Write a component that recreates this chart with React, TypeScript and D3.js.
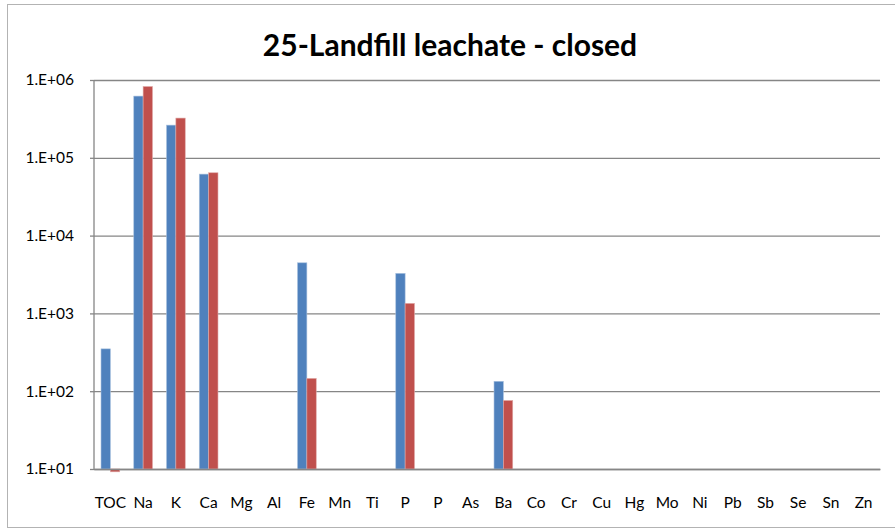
import { useEffect, useRef } from 'react'
import * as d3 from 'd3'

const title = '25-Landfill leachate - closed'

const categories = ['TOC', 'Na', 'K', 'Ca', 'Mg', 'Al', 'Fe', 'Mn', 'Ti', 'P', 'P', 'As', 'Ba',
  'Co', 'Cr', 'Cu', 'Hg', 'Mo', 'Ni', 'Pb', 'Sb', 'Se', 'Sn', 'Zn']

// null = no bar drawn
const seriesBlue: (number | null)[] = [350, 621000, 263000, 61700, null, null, 4470, null, null, 3270, null, null, 134,
  null, null, null, null, null, null, null, null, null, null, null]
const seriesRed: (number | null)[] = [9.2, 824000, 324000, 64200, null, null, 146, null, null, 1345, null, null, 76,
  null, null, null, null, null, null, null, null, null, null, null]

const yTicks = [10, 100, 1000, 10000, 100000, 1000000]
const yTickLabels = ['1.E+01', '1.E+02', '1.E+03', '1.E+04', '1.E+05', '1.E+06']

const colors = ['#4f81bd', '#c0504d']
const edges = ['#a7c0de', '#dfa8a6']

export default function App() {
  const ref = useRef<SVGSVGElement>(null)

  useEffect(() => {
    if (!ref.current) return
    const el = ref.current
    const width = 895
    const height = 529
    const margin = { top: 80, right: 15, bottom: 60, left: 94 }
    const iW = width - margin.left - margin.right
    const iH = height - margin.top - margin.bottom

    d3.select(el).selectAll('*').remove()
    const root = d3.select(el)

    // chart frame
    root.append('rect')
      .attr('x', 7.5).attr('y', 4.5).attr('width', width + 20).attr('height', 523)
      .attr('fill', '#fff').attr('stroke', '#b3b3b3').attr('stroke-width', 1)

    root.append('text')
      .attr('x', 450).attr('y', 56)
      .attr('text-anchor', 'middle')
      .attr('font-family', 'Lato, sans-serif')
      .attr('font-weight', 'bold')
      .attr('font-size', '30px')
      .attr('fill', '#000')
      .text(title)

    const svg = root.append('g').attr('transform', `translate(${margin.left},${margin.top})`)

    const idx = categories.map((_, i) => i)
    const x = d3.scaleBand<number>().domain(idx).range([0, iW]).paddingInner(1.5 / 3.5).paddingOuter(0.75 / 3.5)
    const xs = d3.scaleBand<number>().domain([0, 1]).range([0, x.bandwidth()])
    const y = d3.scaleLog().domain([10, 1000000]).range([iH, 0])

    // gridlines
    svg.append('g')
      .call(d3.axisLeft(y).tickValues(yTicks).tickSize(-iW).tickFormat(() => ''))
      .call(g => { g.select('.domain').remove(); g.selectAll('line').attr('stroke', '#868686').attr('stroke-width', 1.3) })

    // y labels
    svg.append('g')
      .call(d3.axisLeft(y).tickValues(yTicks).tickSize(4).tickFormat((_, i) => yTickLabels[i]))
      .call(g => {
        g.select('.domain').remove()
        g.selectAll('line').attr('stroke', '#868686').attr('stroke-width', 1.3)
        g.selectAll('text').attr('fill', '#000').attr('font-size', '15.5px').attr('font-family', 'Lato, sans-serif').attr('dx', '-13px')
      })

    // left axis line
    svg.append('line')
      .attr('x1', 0).attr('x2', 0).attr('y1', 0).attr('y2', iH)
      .attr('stroke', '#868686').attr('stroke-width', 1.3)

    const series = [seriesBlue, seriesRed]
    series.forEach((vals, s) => {
      svg.append('g')
        .selectAll('rect')
        .data(vals.map((v, i) => ({ v, i })).filter(d => d.v != null))
        .join('rect')
        .attr('x', d => x(d.i)! + xs(s)!)
        .attr('width', xs.bandwidth())
        .attr('y', d => y(Math.max(d.v!, 10)))
        .attr('height', d => Math.abs(y(d.v!) - y(10)))
        .attr('fill', colors[s])
        .attr('stroke', edges[s])
        .attr('stroke-width', 0.6)
    })

    // bottom axis
    svg.append('g')
      .attr('transform', `translate(0,${iH})`)
      .call(d3.axisBottom(x).tickSize(0).tickFormat(i => categories[i]))
      .call(g => {
        g.select('.domain').attr('stroke', '#868686').attr('stroke-width', 1.3)
        g.selectAll('text').attr('fill', '#000').attr('font-size', '15.5px').attr('font-family', 'Lato, sans-serif').attr('dy', '36px')
      })
  }, [])

  return <svg ref={ref} width={895} height={529} style={{ position: 'absolute', left: 0, top: 0, display: 'block' }} />
}
